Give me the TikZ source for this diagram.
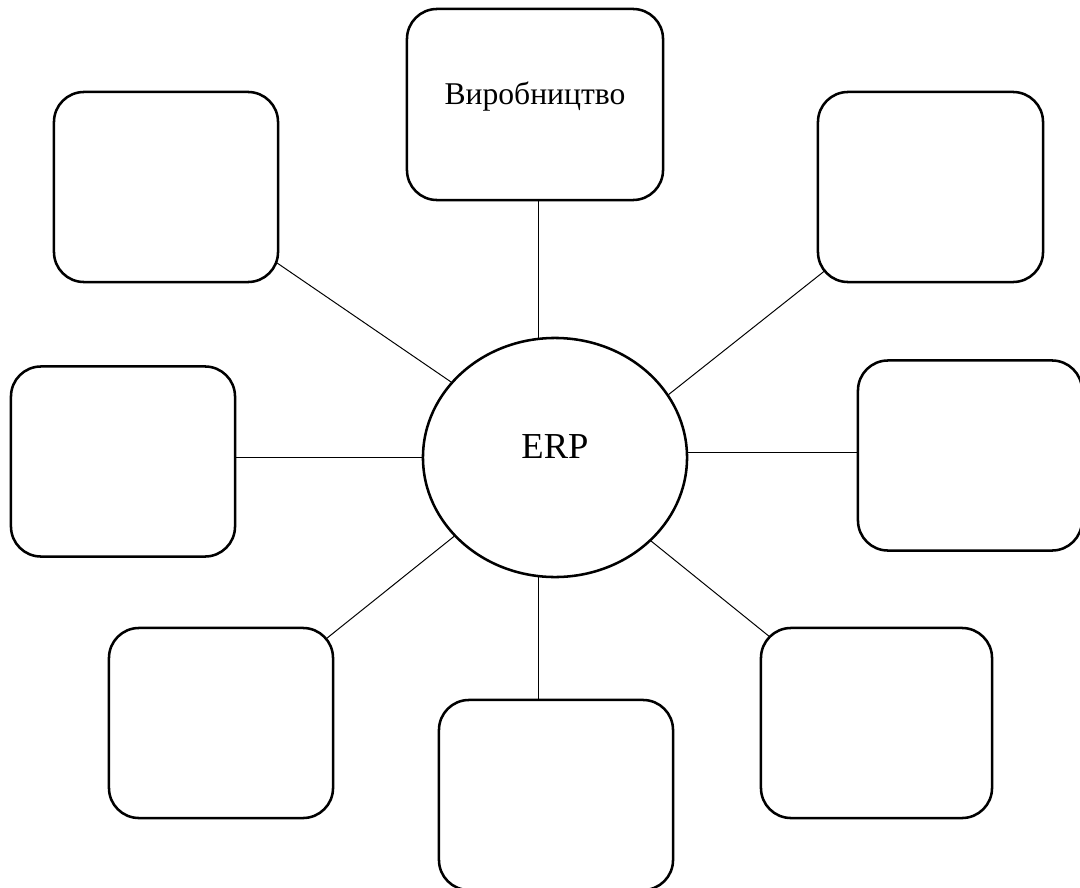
\documentclass[tikz,border=0pt]{standalone}
\usepackage{fontspec}
\setmainfont{Liberation Serif}
\usetikzlibrary{shapes.geometric,backgrounds}

\tikzset{
  unit/.style={rectangle, rounded corners=0.75cm, draw=black, line width=1.8pt,
    fill=white, minimum width=5.6cm, minimum height=4.75cm},
  hub/.style={ellipse, draw=black, line width=1.8pt, fill=white},
  link/.style={draw=black, line width=0.7pt},
}

\begin{document}
\begin{tikzpicture}[x=0.025cm, y=-0.025cm]
        \path[clip] (0,0) rectangle (1080,888);

        % centre
        \node[hub, minimum width=6.6cm, minimum height=5.975cm,
              font=\fontsize{26}{30}\selectfont, text depth=0.525cm] (erp) at (555,457.5) {ERP};

        % modules
        \node[unit, minimum width=6.4cm, minimum height=4.775cm,
              font=\fontsize{22.5}{26}\selectfont, text depth=0.575cm] (prod) at (535,104.5) {Виробництво};
        \node[unit] (tl)  at (166,187)     {};
        \node[unit, minimum width=5.625cm] (tr) at (930.5,187) {};
        \node[unit] (lft) at (123,461.5)   {};
        \node[unit] (rgt) at (970,455.5)   {};
        \node[unit] (bl)  at (221,723)     {};
        \node[unit, minimum width=5.775cm] (br)  at (876.5,723) {};
        \node[unit, minimum width=5.85cm]  (bot) at (556,795)   {};

        %links behind the boxes
        \begin{pgfonlayer}{background}
            \path[link] (erp.98.6)  -- (erp.98.6 |- prod.center);
            \path[link] (erp.144.6) -- (tl.center);
            \path[link] (erp.29.7)  -- (tr.center);
            \path[link] (erp.180)   -- (erp.180 -| lft.center);
            \path[link] (erp.2)     -- (erp.2 -| rgt.center);
            \path[link] (erp.218.8) -- (bl.center);
            \path[link] (erp.319.2) -- (br.center);
            \path[link] (erp.262)   -- (erp.262 |- bot.center);
        \end{pgfonlayer}
\end{tikzpicture}
\end{document}
